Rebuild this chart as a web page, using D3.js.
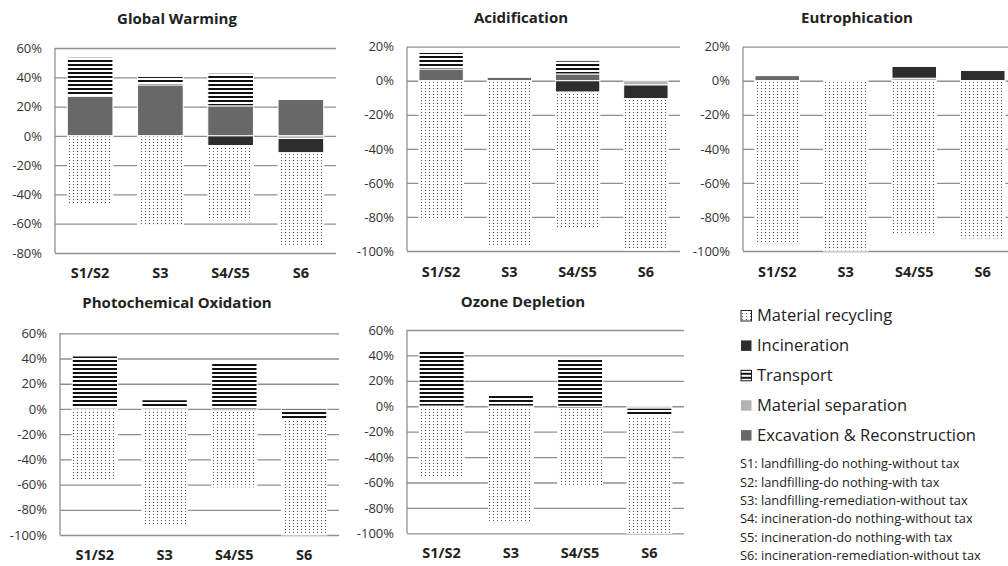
<!DOCTYPE html>
<html>
<head>
<meta charset="utf-8">
<script src="https://cdn.jsdelivr.net/npm/d3@7"></script>
<style>
  body { margin: 0; background: #fff; }
  svg { display: block; font-family: "Open Sans", sans-serif; }
</style>
</head>
<body>
<div id="wrapper"></div>
<script>
// Data (percent), columns follow seriesNames order
const scenarios = ["S1/S2", "S3", "S4/S5", "S6"];
const seriesNames = ["Excavation & Reconstruction", "Material separation", "Incineration", "Transport", "Material recycling"];
const legendOrder = ["Material recycling", "Incineration", "Transport", "Material separation", "Excavation & Reconstruction"];
const notes = [
  "S1: landfilling-do nothing-without tax",
  "S2: landfilling-do nothing-with tax",
  "S3: landfilling-remediation-without tax",
  "S4: incineration-do nothing-without tax",
  "S5: incineration-do nothing-with tax",
  "S6: incineration-remediation-without tax"
];

const globalWarming = [
  [27, 0, 0, 26.7, -47],
  [34.8, 0, 0, 5.7, -60.7],
  [20.5, 0, -6.6, 22.3, -51.4],
  [24.8, -1.8, -9.8, 0, -63.9]
];
const acidification = [
  [6.9, 0, 0, 9.7, -82],
  [2, 0, 0, 0, -97.8],
  [4, 0, -6.7, 7.7, -80.3],
  [0, -2.5, -8.1, 0, -88.8]
];
const eutrophication = [
  [3, 0, 0, 0, -95.5],
  [0, 0, 0, 0, -100],
  [0, 1.5, 6.9, 0, -90.6],
  [0, 0, 6, 0, -93]
];
const photochemical = [
  [0, 0, 0, 42, -56.7],
  [0, 0, 0, 7.3, -92],
  [0, 0, -1.5, 36.3, -61.2],
  [0, 0, 0, -8, -92]
];
const ozone = [
  [0, 0, 0, 43.3, -56.5],
  [0, 0, 0, 9.2, -91.6],
  [0, 0, -1.5, 38, -61.3],
  [0, -1.5, 0, -6.4, -92.1]
];

const gwTicks = [-80, -60, -40, -20, 0, 20, 40, 60];
const lowTicks = [-100, -80, -60, -40, -20, 0, 20];
const wideTicks = [-100, -80, -60, -40, -20, 0, 20, 40, 60];

// Layout
const width = 1008, height = 566;
const panels = [
  {title: "Global Warming", data: globalWarming, ticks: gwTicks, x: [55, 336], y: [48, 253], tx: 177, ty: 24, ly: 278},
  {title: "Acidification", data: acidification, ticks: lowTicks, x: [407, 680], y: [46.7, 251], tx: 521, ty: 23, ly: 277},
  {title: "Eutrophication", data: eutrophication, ticks: lowTicks, x: [743, 1017], y: [46.7, 251], tx: 857, ty: 23, ly: 277},
  {title: "Photochemical Oxidation", data: photochemical, ticks: wideTicks, x: [60, 339], y: [333.3, 535], tx: 177, ty: 308, ly: 560},
  {title: "Ozone Depletion", data: ozone, ticks: wideTicks, x: [407, 684], y: [330, 533.3], tx: 523, ty: 307, ly: 558}
];

const fills = ["#686868", "#b3b3b3", "#2d2d2d", "url(#stripes)", "url(#dots)"];
const fillByName = d3.scaleOrdinal().domain(seriesNames).range(fills);

const svg = d3.select('#wrapper').append('svg')
  .attr('width', width).attr('height', height);

// Patterns
const defs = svg.append('defs');
const stripes = defs.append('pattern').attr('id', 'stripes')
  .attr('patternUnits', 'userSpaceOnUse').attr('width', 4).attr('height', 4);
stripes.append('rect').attr('width', 4).attr('height', 4).attr('fill', '#fff');
stripes.append('rect').attr('width', 4).attr('height', 2).attr('fill', '#111');
const dots = defs.append('pattern').attr('id', 'dots')
  .attr('patternUnits', 'userSpaceOnUse').attr('width', 4).attr('height', 3);
dots.append('rect').attr('width', 4).attr('height', 3).attr('fill', '#fff');
dots.append('rect').attr('x', 1).attr('y', 1).attr('width', 1).attr('height', 1).attr('fill', '#555');

const stack = d3.stack().keys(d3.range(seriesNames.length)).offset(d3.stackOffsetDiverging);

panels.forEach(p => {
  const g = svg.append('g');
  const xScale = d3.scaleBand().domain(scenarios).range(p.x).paddingInner(0.35).paddingOuter(0.175);
  const yScale = d3.scaleLinear().domain(d3.extent(p.ticks)).range([p.y[1], p.y[0]]);

  // gridlines + tick labels
  const yAxis = g.append('g').attr('transform', `translate(${p.x[0]},0)`)
    .call(d3.axisLeft(yScale).tickValues(p.ticks).tickSize(-(p.x[1] - p.x[0])).tickPadding(13).tickFormat(d => d + '%'));
  yAxis.select('.domain').remove();
  yAxis.selectAll('.tick line').attr('stroke', '#8f8f8f').attr('stroke-width', 1.3);
  yAxis.selectAll('.tick text').attr('fill', '#333').style('font-size', '13px').style('font-family', '"Open Sans", sans-serif');
  g.append('line').attr('x1', p.x[0]).attr('x2', p.x[0]).attr('y1', p.y[0]).attr('y2', p.y[1])
    .attr('stroke', '#8f8f8f').attr('stroke-width', 1.3);

  // bars
  const series = stack(p.data);
  g.selectAll('g.series').data(series).enter().append('g').attr('class', 'series')
    .attr('fill', (d, i) => fills[i])
    .selectAll('rect').data(d => d.map((v, j) => ({v, cat: scenarios[j]})))
    .enter().filter(d => d.v[1] !== d.v[0])
    .append('rect')
    .attr('x', d => xScale(d.cat))
    .attr('width', xScale.bandwidth())
    .attr('y', d => yScale(Math.max(d.v[0], d.v[1])))
    .attr('height', d => Math.abs(yScale(d.v[0]) - yScale(d.v[1])))
    .attr('stroke', '#fff').attr('stroke-width', 1);

  // category labels
  g.selectAll('text.cat').data(scenarios).enter().append('text').attr('class', 'cat')
    .attr('x', d => xScale(d) + xScale.bandwidth() / 2).attr('y', p.ly)
    .attr('text-anchor', 'middle').attr('fill', '#222')
    .style('font-size', '14.5px').style('font-weight', 'bold').text(d => d);

  g.append('text').attr('x', p.tx).attr('y', p.ty).attr('text-anchor', 'middle')
    .attr('fill', '#222').style('font-size', '15px').style('font-weight', 'bold').text(p.title);
});

// Legend
const legend = svg.append('g');
const rows = legend.selectAll('g').data(legendOrder).enter().append('g')
  .attr('transform', (d, i) => `translate(741,${321 + i * 29.9})`);
rows.append('rect').attr('x', 0).attr('y', -10.5).attr('width', 10.5).attr('height', 10.5)
  .attr('fill', d => fillByName(d))
  .attr('stroke', d => (d === 'Transport' || d === 'Material recycling') ? '#222' : 'none');
rows.append('text').attr('x', 16).attr('y', 0).attr('fill', '#222')
  .style('font-size', '16.5px').text(d => d);

legend.selectAll('text.note').data(notes).enter().append('text').attr('class', 'note')
  .attr('x', 740).attr('y', (d, i) => 468.3 + i * 18.35).attr('fill', '#222')
  .style('font-size', '12.8px').text(d => d);
</script>
</body>
</html>
